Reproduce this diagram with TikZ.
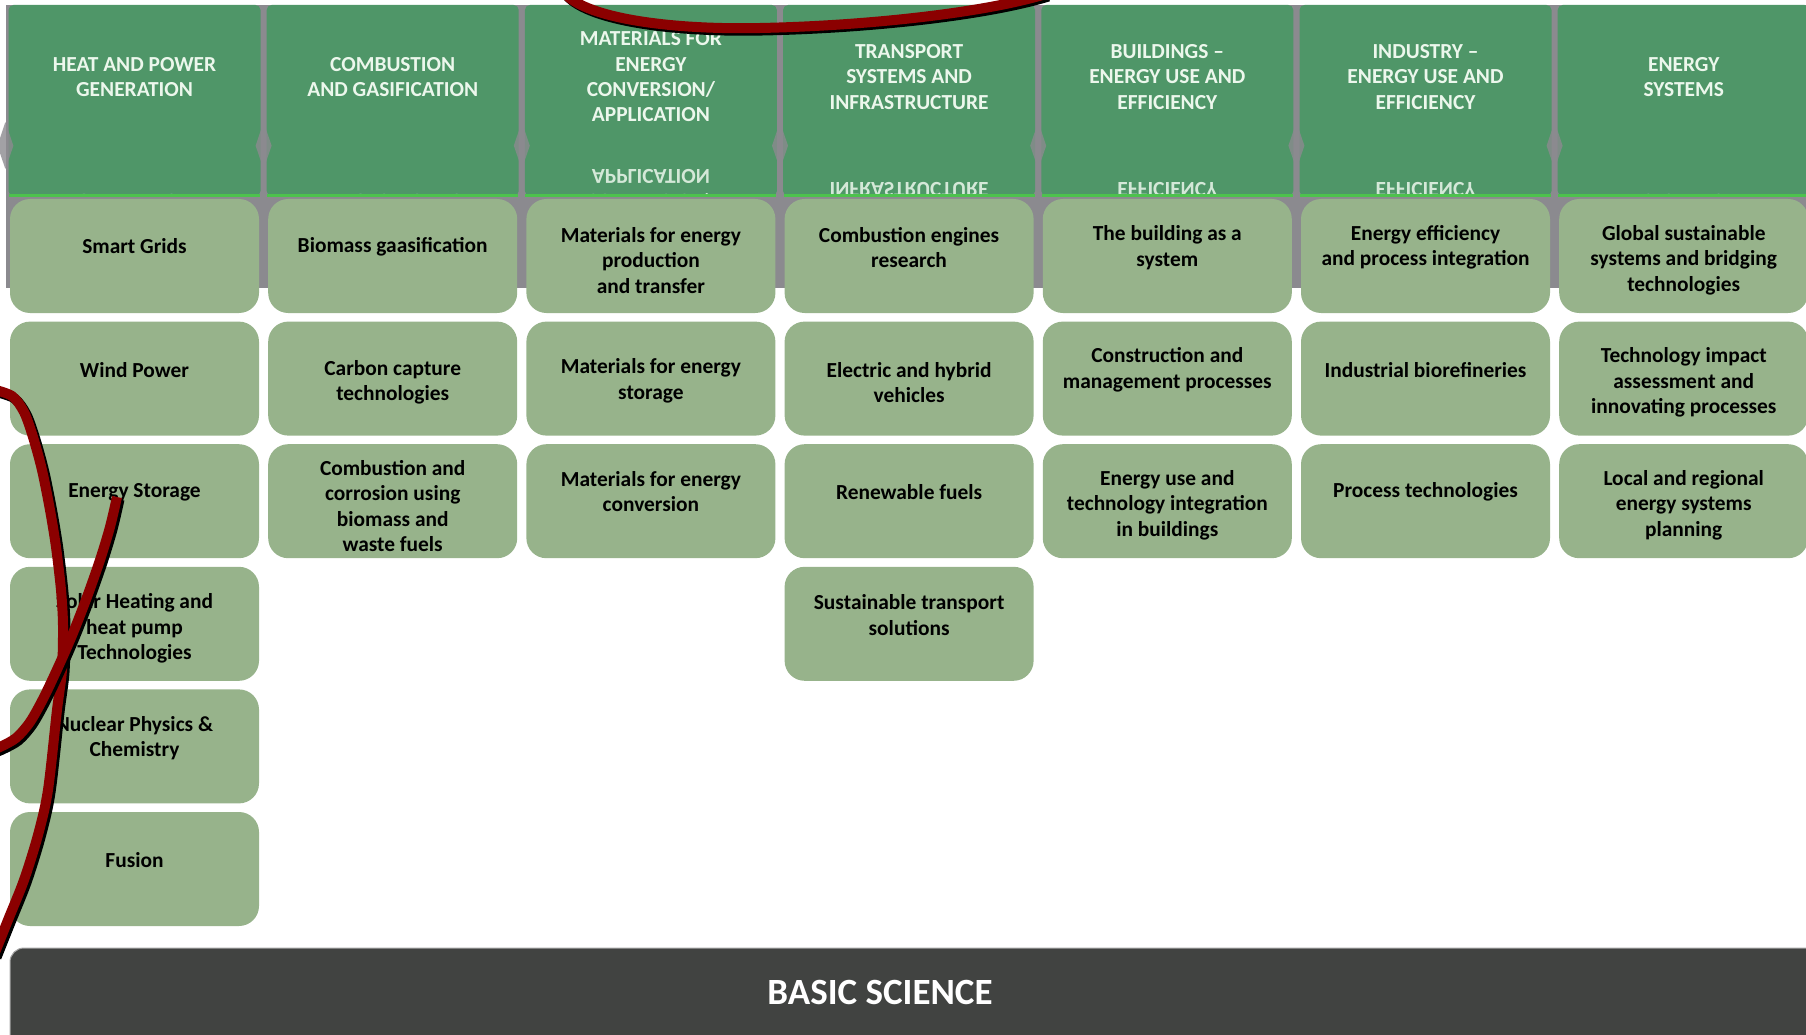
\documentclass[tikz,border=0pt]{standalone}
\usepackage{fontspec}
\setmainfont{Carlito}
\definecolor{headgreen}{HTML}{4F9668}
\definecolor{cellgreen}{HTML}{97B38B}
\definecolor{panelgray}{HTML}{8B8A8F}
\definecolor{basegray}{HTML}{414341}
\definecolor{headink}{HTML}{ECF7EC}
\definecolor{scrawlred}{HTML}{8B0000}
\definecolor{edgegreen}{HTML}{4DC24D}

\tikzset{
  cellbox/.style={fill=cellgreen, rounded corners=20pt, minimum width=249pt,
    minimum height=114pt, inner sep=0pt, draw=none},
  celltext/.style={font=\fontsize{21.4}{25.3}\selectfont\bfseries, align=center,
    inner sep=0pt, text=black},
  headtile/.style={fill=headgreen, rounded corners=5pt, minimum width=252pt,
    minimum height=191pt, inner sep=0pt},
  headtext/.style={font=\fontsize{21.4}{25.3}\selectfont\bfseries, align=center,
    inner sep=0pt, text=headink},
  scrawl/.style={line width=10pt, draw=scrawlred},
  scrawlshadow/.style={line width=10pt, draw=black, shift={(2.5,2.5)}},
  basebar/.style={fill=basegray, draw=black!35, line width=1pt, rounded corners=14pt},
}

% one theme cell: #1 name, #2 column (0-6), #3 row (0-5), #4 text centre y, #5 text
\newcommand\gridcell[5]{%
  \pgfmathsetmacro\cellx{134.5+258.2*#2}%
  \pgfmathsetmacro\celly{256+122.6*#3}%
  \node[cellbox] (#1) at (\cellx,\celly) {};
  \node[celltext] (#1-t) at (\cellx,#4) {#5};
}

% one column heading with its mirrored reflection: #1 name, #2 column, #3 text
\newcommand\headcell[3]{%
  \pgfmathsetmacro\headx{134.5+258.2*#2}%
  \node[headtile] (#1) at (\headx,100.5) {};
  \draw[edgegreen, line width=2.5pt] (\headx-125.5,195.5) -- (\headx+125.5,195.5);
  \node[headtext] (#1-t) at (\headx,77) {#3};
  \begin{scope}
    \clip (\headx-126,5) rectangle (\headx+126,194);
    \begin{scope}[shift={(\headx,214.4)}, yscale=-1]
      \node[headtext, transform shape, opacity=0.85] (#1-r) at (0,0) {#3};
    \end{scope}
  \end{scope}
}

\begin{document}
\begin{tikzpicture}[x=1pt,y=-1pt]
\useasboundingbox (0,0) rectangle (1806,1035);
\clip (0,0) rectangle (1806,1035);

% grey panel behind the headings
\fill[panelgray] (6,5) rectangle (1812,288);

% column headings
\headcell{h1}{0}{HEAT AND POWER\\GENERATION}
\headcell{h2}{1}{COMBUSTION\\AND GASIFICATION}
\headcell{h3}{2}{MATERIALS FOR\\ENERGY\\CONVERSION/\\APPLICATION}
\headcell{h4}{3}{TRANSPORT\\SYSTEMS AND\\INFRASTRUCTURE}
\headcell{h5}{4}{BUILDINGS –\\ENERGY USE AND\\EFFICIENCY}
\headcell{h6}{5}{INDUSTRY –\\ENERGY USE AND\\EFFICIENCY}
\headcell{h7}{6}{ENERGY\\SYSTEMS}

% soft grey joints between the heading tiles
\foreach \i in {0,...,6}{
  \pgfmathsetmacro\gx{5.4+258.2*\i}
  \fill[panelgray, opacity=0.8] (\gx,122) -- (\gx+8,145.7) -- (\gx,169) -- (\gx-8,145.7) -- cycle;
}

% theme cells
\gridcell{c11}{0}{0}{246.5}{Smart Grids}
\gridcell{c12}{0}{1}{369.7}{Wind Power}
\gridcell{c13}{0}{2}{491.8}{Energy Storage}
\gridcell{c14}{0}{3}{628.3}{Solar Heating and\\heat pump\\Technologies}
\gridcell{c15}{0}{4}{738.3}{Nuclear Physics \&\\Chemistry}
\gridcell{c16}{0}{5}{860.4}{Fusion}

\gridcell{c21}{1}{0}{246.5}{Biomass gaasification}
\gridcell{c22}{1}{1}{382.4}{Carbon capture\\technologies}
\gridcell{c23}{1}{2}{506.2}{Combustion and\\corrosion using\\biomass and\\waste fuels}

\gridcell{c31}{2}{0}{260.3}{Materials for energy\\production\\and transfer}
\gridcell{c32}{2}{1}{380.7}{Materials for energy\\storage}
\gridcell{c33}{2}{2}{491.8}{Materials for energy\\conversion}

\gridcell{c41}{3}{0}{247.6}{Combustion engines\\research}
\gridcell{c42}{3}{1}{382.4}{Electric and hybrid\\vehicles}
\gridcell{c43}{3}{2}{491.8}{Renewable fuels}
\gridcell{c44}{3}{3}{615}{Sustainable transport\\solutions}

\gridcell{c51}{4}{0}{247.6}{The building as a\\system}
\gridcell{c52}{4}{1}{369.7}{Construction and\\management processes}
\gridcell{c53}{4}{2}{505.1}{Energy use and\\technology integration\\in buildings}

\gridcell{c61}{5}{0}{247.6}{Energy efficiency\\and process integration}
\gridcell{c62}{5}{1}{369.7}{Industrial biorefineries}
\gridcell{c63}{5}{2}{491.8}{Process technologies}

\gridcell{c71}{6}{0}{260.3}{Global sustainable\\systems and bridging\\technologies}
\gridcell{c72}{6}{1}{382.4}{Technology impact\\assessment and\\innovating processes}
\gridcell{c73}{6}{2}{505.1}{Local and regional\\energy systems\\planning}

% base bar
\draw[basebar] (10,948) rectangle (1830,1070);
\node[font=\fontsize{37}{44}\selectfont\bfseries, text=white, inner sep=0pt]
  (basic) at (880,992) {BASIC SCIENCE};

% red hand-drawn strokes with their dark shadows
\def\topstroke{(562,-10) .. controls (580,18) and (670,30) .. (760,28)
  .. controls (860,26) and (980,14) .. (1046,-6)}
\draw[scrawlshadow] \topstroke;
\draw[scrawl] \topstroke;

\def\longstroke{plot[smooth] coordinates {(-8,389) (12,396) (24,412) (33,437) (42,470)
  (50,510) (56,547) (61,590) (63,625) (62,670) (57,710) (48,790) (38,835)
  (24,880) (8,920) (-6,955)}}
\draw[scrawlshadow] \longstroke;
\draw[scrawl] \longstroke;

\def\shortstroke{plot[smooth] coordinates {(117,497) (110,527) (100,560) (87,597)
  (73,633) (60,663) (44,697) (30,722) (16,738) (0,747) (-8,750)}}
\draw[scrawlshadow] \shortstroke;
\draw[scrawl] \shortstroke;
\end{tikzpicture}
\end{document}
